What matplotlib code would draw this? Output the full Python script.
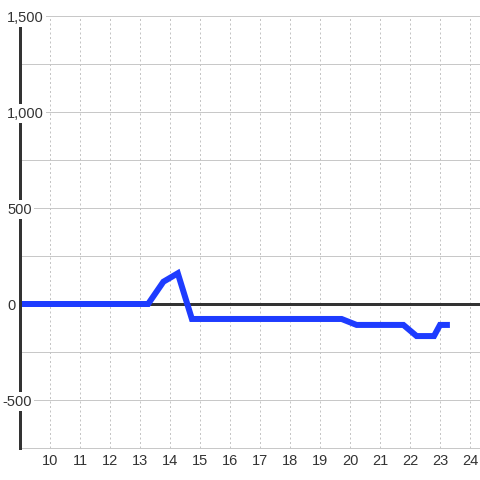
import matplotlib
matplotlib.use("Agg")
import matplotlib.pyplot as plt

plt.rcParams['font.family'] = ['Liberation Sans', 'DejaVu Sans']
plt.rcParams['lines.scale_dashes'] = False

# Data
hours = [9.0, 13.27, 13.78, 14.26, 14.73, 19.72, 20.22, 21.78, 22.22, 22.8, 23.0, 23.33]
values = [0, 0, 116, 160, -78, -78, -109, -109, -167, -167, -109, -109]
x_ticks = list(range(10, 25))
y_grid = [-750, -500, -250, 0, 250, 500, 750, 1000, 1250, 1500]
y_labels = [-500, 0, 500, 1000, 1500]

W, H = 480, 480
fig = plt.figure(figsize=(4.8, 4.8), dpi=100)
fig.patch.set_facecolor('white')
ax = fig.add_axes([20 / W, 32 / H, 460 / W, 432 / H])
ax.set_facecolor('white')
ax.set_xlim(9.0, 9.0 + 460 / 30)
ax.set_ylim(-750, 1500)
for s in ax.spines.values():
    s.set_visible(False)

px = 0.72  # points per pixel at 100 dpi
grid_c = '#c8c8c8'
dark = '#333333'

# horizontal grid
for v in y_grid:
    ax.axhline(v, color=grid_c, lw=1 * px, zorder=1, clip_on=False)
# vertical dotted grid
for t in x_ticks:
    ax.axvline(t, color='#c4c4c4', lw=1 * px, linestyle=(0, (2 * px, 2.5 * px)), zorder=1)

# zero line
ax.axhline(0, color=dark, lw=3 * px, zorder=2)

# data line
ax.plot(hours, values, color='#1e3cff', lw=6 * px, solid_joinstyle='miter',
        solid_capstyle='butt', zorder=3)

# left axis line
ax.axvline(9.0, color=dark, lw=3 * px, zorder=4, clip_on=False)

# x ticks
ax.set_xticks(x_ticks)
ax.set_xticklabels([str(t) for t in x_ticks])
ax.tick_params(axis='x', length=0, pad=4, labelsize=10.5, labelcolor=dark)
ax.set_yticks([])

# y labels with white background
for v in y_labels:
    s = f"{v:,}"
    xpix = 7 if v >= 0 else 2
    ax.text(xpix / W, ax.transData.transform((0, v))[1] / H, s,
            transform=fig.transFigure, ha='left', va='center_baseline',
            fontsize=10.5, color=dark, zorder=5,
            bbox=dict(facecolor='white', edgecolor='none', pad=1.5))

fig.savefig('out.png', dpi=100, facecolor='white')
